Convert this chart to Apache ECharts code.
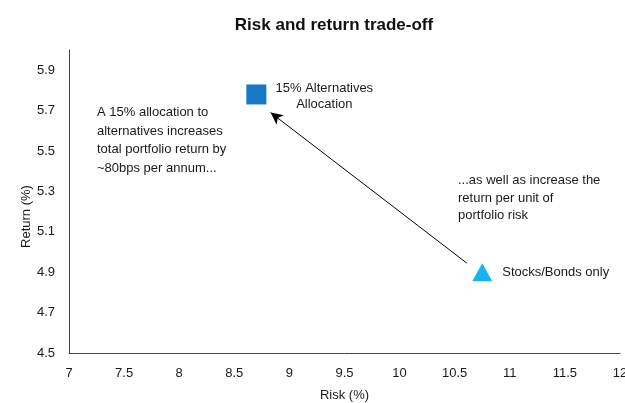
<!DOCTYPE html>
<html>
<head>
<meta charset="utf-8">
<script src="https://cdn.jsdelivr.net/npm/echarts@6/dist/echarts.min.js"></script>
<style>
  html, body { margin: 0; padding: 0; background: #fff; }
  #chart { width: 625px; height: 403px; }
</style>
</head>
<body>
<div id="chart"></div>
<script>
// Portfolio points: [risk %, return %]
const portfolioNames = ['15% Alternatives\nAllocation', 'Stocks/Bonds only'];
const riskValues = [8.7, 10.75];
const returnValues = [5.78, 4.9];

// Arrow from the stocks/bonds mix toward the alternatives mix
const arrowFrom = [10.61, 4.945];
const arrowTo = [8.83, 5.69];

// Axis ranges and tick steps
const xRange = [7, 12];
const xStep = 0.5;
const yRange = [4.5, 6.0];
const yStep = 0.2;

const FONT = '"Liberation Sans", Arial, sans-serif';
const TEXT = '#1a1a1a';

const chart = echarts.init(document.getElementById('chart'), null, { renderer: 'canvas' });

chart.setOption({
  animation: false,
  backgroundColor: '#ffffff',
  title: {
    text: 'Risk and return trade-off',
    left: 329,
    textAlign: 'center',
    top: 12,
    textStyle: { fontFamily: FONT, fontSize: 17, fontWeight: 'bold', color: '#111' }
  },
  grid: { left: 69, right: 5, top: 50, bottom: 50, containLabel: false, outerBoundsMode: 'none' },
  xAxis: {
    type: 'value',
    min: xRange[0], max: xRange[1], interval: xStep,
    name: 'Risk (%)',
    nameLocation: 'middle',
    nameGap: 36,
    nameMoveOverlap: false,
    nameTextStyle: { fontFamily: FONT, fontSize: 13, color: TEXT },
    axisLine: { show: true, lineStyle: { color: '#444', width: 1 } },
    axisTick: { show: false },
    splitLine: { show: false },
    axisLabel: { fontFamily: FONT, fontSize: 13, color: TEXT, margin: 14, hideOverlap: false }
  },
  yAxis: {
    type: 'value',
    min: yRange[0], max: yRange[1], interval: yStep,
    name: 'Return (%)',
    nameLocation: 'middle',
    nameGap: 36,
    nameRotate: 90,
    nameMoveOverlap: false,
    nameTextStyle: { fontFamily: FONT, fontSize: 13, color: TEXT, padding: [0, 30, 0, 0] },
    axisLine: { show: true, lineStyle: { color: '#444', width: 1 } },
    axisTick: { show: false },
    splitLine: { show: false },
    axisLabel: {
      fontFamily: FONT, fontSize: 13, color: TEXT, margin: 14,
      showMaxLabel: false,
      formatter: v => v.toFixed(1)
    }
  },
  series: [
    {
      type: 'scatter',
      name: portfolioNames[0],
      symbol: 'rect',
      symbolSize: 20,
      itemStyle: { color: '#1878C8', opacity: 1 },
      data: [[riskValues[0], returnValues[0]]],
      label: {
        show: true,
        position: 'right',
        distance: 10,
        formatter: portfolioNames[0],
        align: 'center',
        fontFamily: FONT, fontSize: 13, color: TEXT, lineHeight: 16,
        offset: [48, 2]
      },
      markLine: {
        silent: true,
        symbol: ['none', 'arrow'],
        symbolSize: [9, 12],
        lineStyle: { color: '#000', width: 1, type: 'solid', opacity: 1 },
        label: { show: false },
        data: [[{ coord: arrowFrom }, { coord: arrowTo }]]
      }
    },
    {
      type: 'scatter',
      name: portfolioNames[1],
      symbol: 'triangle',
      symbolSize: [20, 18],
      itemStyle: { color: '#18B2F0', opacity: 1 },
      data: [[riskValues[1], returnValues[1]]],
      label: {
        show: true,
        position: 'right',
        distance: 10,
        formatter: portfolioNames[1],
        fontFamily: FONT, fontSize: 13, color: TEXT
      }
    }
  ],
  graphic: [
    {
      type: 'text',
      left: 97, top: 103,
      style: {
        text: 'A 15% allocation to\nalternatives increases\ntotal portfolio return by\n~80bps per annum...',
        font: '13px ' + FONT,
        fill: TEXT,
        lineHeight: 18.7
      }
    },
    {
      type: 'text',
      left: 458, top: 172,
      style: {
        text: '...as well as increase the\nreturn per unit of\nportfolio risk',
        font: '13px ' + FONT,
        fill: TEXT,
        lineHeight: 17.5
      }
    }
  ]
});
</script>
</body>
</html>
